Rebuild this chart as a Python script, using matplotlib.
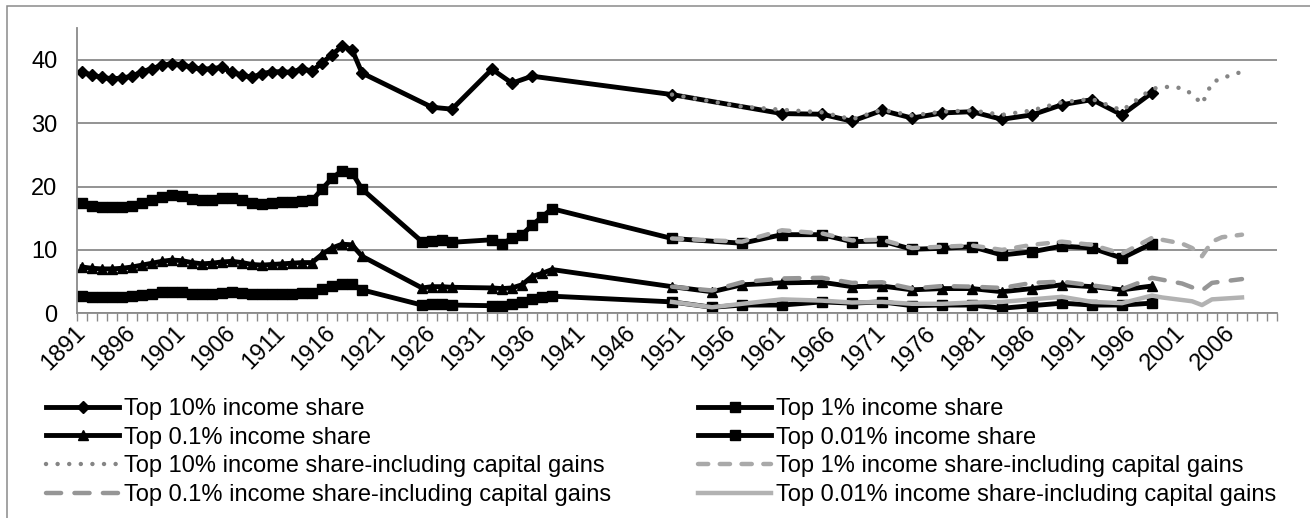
import matplotlib
matplotlib.use("Agg")
import matplotlib.pyplot as plt
from matplotlib.patches import Rectangle
import numpy as np

plt.rcParams['font.family'] = ['Liberation Sans', 'DejaVu Sans']

# ---- data (percent of total income) ----
pre_years = list(range(1891, 1920))
top10_pre = [38.0, 37.6, 37.2, 37.0, 37.1, 37.4, 38.1, 38.6, 39.1, 39.4,
             39.2, 38.8, 38.5, 38.6, 38.8, 38.0, 37.6, 37.2, 37.8, 38.1,
             38.1, 38.0, 38.6, 38.2, 39.5, 40.8, 42.1, 41.6, 37.9]
top1_pre = [17.4, 17.0, 16.8, 16.7, 16.8, 17.0, 17.4, 17.9, 18.3, 18.6,
            18.5, 18.0, 17.8, 17.9, 18.2, 18.2, 17.9, 17.4, 17.3, 17.4,
            17.5, 17.6, 17.7, 17.8, 19.6, 21.3, 22.5, 22.2, 19.6]
top01_pre = [7.3, 7.1, 7.0, 7.0, 7.1, 7.3, 7.6, 7.9, 8.2, 8.4,
             8.3, 8.0, 7.8, 7.9, 8.1, 8.2, 8.0, 7.7, 7.6, 7.7,
             7.8, 7.9, 8.0, 8.0, 9.3, 10.3, 10.9, 10.8, 9.0]
top001_pre = [2.7, 2.6, 2.5, 2.5, 2.6, 2.7, 2.9, 3.1, 3.3, 3.4,
              3.3, 3.1, 3.0, 3.1, 3.2, 3.3, 3.2, 3.0, 3.0, 3.0,
              3.1, 3.1, 3.2, 3.2, 3.9, 4.3, 4.7, 4.6, 3.7]

top10_later_years = [1926, 1928, 1932, 1934, 1936,
                     1950, 1961, 1965, 1968, 1971, 1974, 1977, 1980, 1983,
                     1986, 1989, 1992, 1995, 1998]
top10_later = [32.5, 32.2, 38.5, 36.3, 37.4,
               34.5, 31.5, 31.4, 30.3, 32.0, 30.8, 31.6, 31.8, 30.6,
               31.3, 32.9, 33.7, 31.3, 34.8]

interwar_years = [1925, 1926, 1927, 1928, 1932, 1933, 1934, 1935, 1936, 1937, 1938]
top1_interwar = [11.3, 11.4, 11.6, 11.2, 11.6, 11.0, 11.8, 12.4, 13.9, 15.2, 16.5]
top01_interwar = [4.0, 4.2, 4.2, 4.1, 4.0, 3.9, 4.0, 4.5, 5.8, 6.3, 6.9]
top001_interwar = [1.3, 1.4, 1.4, 1.3, 1.2, 1.2, 1.4, 1.8, 2.3, 2.5, 2.7]

top1_post_years = [1950, 1957, 1961, 1965, 1968, 1971, 1974, 1977, 1980,
                   1983, 1986, 1989, 1992, 1995, 1998]
top1_post = [11.8, 11.05, 12.4, 12.4, 11.3, 11.4, 10.1, 10.25, 10.5,
             9.2, 9.7, 10.6, 10.3, 8.7, 11.0]
post_years = [1950, 1954, 1957, 1961, 1965, 1968, 1971, 1974, 1977, 1980,
              1983, 1986, 1989, 1992, 1995, 1998]
top01_post = [4.2, 3.4, 4.5, 4.8, 4.9, 4.2, 4.3, 3.7, 3.9, 3.9,
              3.4, 3.9, 4.5, 4.2, 3.7, 4.3]
top001_post = [1.8, 0.95, 1.3, 1.3, 1.8, 1.6, 1.8, 1.2, 1.3, 1.3,
               0.8, 1.2, 1.6, 1.3, 1.3, 1.6]

cg_years = [1950, 1954, 1957, 1961, 1965, 1968, 1971, 1974, 1977, 1980,
            1983, 1986, 1989, 1992, 1995, 1998, 1999, 2000, 2001, 2002,
            2003, 2004, 2005, 2006, 2007]
top10_cg = [34.5, 33.4, 32.6, 32.1, 31.7, 30.6, 32.1, 31.2, 31.8, 32.0,
            31.3, 32.0, 33.3, 33.8, 32.0, 35.4, 35.7, 35.7, 35.5, 34.6,
            33.0, 36.4, 37.1, 37.6, 38.1]
top1_cg = [11.8, 11.5, 11.3, 13.1, 12.6, 11.5, 11.6, 10.3, 10.5, 10.7,
           10.0, 10.8, 11.3, 10.8, 9.4, 11.9, 11.6, 11.3, 11.0, 10.3,
           9.0, 11.3, 12.0, 12.2, 12.4]
top01_cg = [4.2, 3.6, 4.9, 5.5, 5.6, 4.8, 4.9, 3.9, 4.3, 4.2,
            4.0, 4.8, 5.0, 4.4, 3.8, 5.6, 5.3, 5.0, 4.7, 4.1,
            3.6, 4.8, 5.0, 5.2, 5.4]
top001_cg = [1.8, 0.95, 1.5, 2.2, 2.0, 1.7, 1.8, 1.5, 1.5, 1.7,
             1.8, 2.2, 2.6, 1.8, 1.6, 2.8, 2.5, 2.3, 2.1, 1.9,
             1.3, 2.2, 2.3, 2.4, 2.5]

label_years = list(range(1891, 2007, 5))

# ---- figure ----
W, H = 1310, 518
fig = plt.figure(figsize=(W / 100, H / 100), dpi=100)
fig.patches.append(Rectangle((6.5 / W, -0.1), 2, 1.1 - 6.5 / H, transform=fig.transFigure,
                             fill=False, ec='#8a8a8a', lw=1.1))
ax = fig.add_axes([77 / W, (H - 313.3) / H, 1200 / W, 285.3 / H])

black = dict(color='black', lw=3.5, solid_joinstyle='miter')
ax.plot(pre_years + top10_later_years, top10_pre + top10_later, marker='D', ms=6,
        label='Top 10% income share', **black)
ax.plot(pre_years + interwar_years + top1_post_years, top1_pre + top1_interwar + top1_post,
        marker='s', ms=7.5, label='Top 1% income share', **black)
ax.plot(pre_years + interwar_years + post_years, top01_pre + top01_interwar + top01_post,
        marker='^', ms=6.5, label='Top 0.1% income share', **black)
ax.plot(pre_years + interwar_years + post_years, top001_pre + top001_interwar + top001_post,
        marker='s', ms=7.5, label='Top 0.01% income share', **black)

ax.plot(cg_years, top10_cg, color='#858585', lw=3.2, ls=(0, (0.01, 2.6)),
        dash_capstyle='round', label='Top 10% income share-including capital gains')
ax.plot(cg_years, top1_cg, color='#a9a9a9', lw=3.2, ls=(0, (2.3, 2.6)),
        dash_capstyle='round', label='Top 1% income share-including capital gains')
ax.plot(cg_years, top01_cg, color='#969696', lw=3.2, ls=(0, (3.4, 3.0)),
        dash_capstyle='round', label='Top 0.1% income share-including capital gains')
ax.plot(cg_years, top001_cg, color='#b2b2b2', lw=3.2,
        label='Top 0.01% income share-including capital gains')

ax.set_xlim(1890.5, 2010.5)
ax.set_ylim(0, 45)
ax.set_yticks([0, 10, 20, 30, 40])
ax.yaxis.grid(True, color='#8a8a8a', lw=1.3)
ax.set_axisbelow(True)
ax.tick_params(axis='y', length=0, pad=14, labelsize=17)

ax.set_xticks(label_years)
ax.set_xticks(np.arange(1890.5, 2011, 1), minor=True)
ax.tick_params(axis='x', which='major', length=0, pad=12, labelsize=17)
ax.tick_params(axis='x', which='minor', length=6, width=1.0, color='#8a8a8a')
for lab in ax.get_xticklabels():
    lab.set_rotation(45)
    lab.set_ha('right')
    lab.set_va('center')
    lab.set_rotation_mode('anchor')

for side in ['top', 'right']:
    ax.spines[side].set_visible(False)
for side in ['left', 'bottom']:
    ax.spines[side].set_color('#8a8a8a')
    ax.spines[side].set_linewidth(1.3)

handles, labels = ax.get_legend_handles_labels()
leg_kw = dict(frameon=False, fontsize=17, handlelength=3.1, handletextpad=0.2,
              labelspacing=0.28, borderpad=0, borderaxespad=0, loc='upper left')
fig.legend([handles[i] for i in (0, 2, 4, 6)], [labels[i] for i in (0, 2, 4, 6)],
           bbox_to_anchor=(46 / W, 1 - 398 / H), **leg_kw)
fig.legend([handles[i] for i in (1, 3, 5, 7)], [labels[i] for i in (1, 3, 5, 7)],
           bbox_to_anchor=(698 / W, 1 - 398 / H), **leg_kw)

fig.savefig('out.png', dpi=100)
